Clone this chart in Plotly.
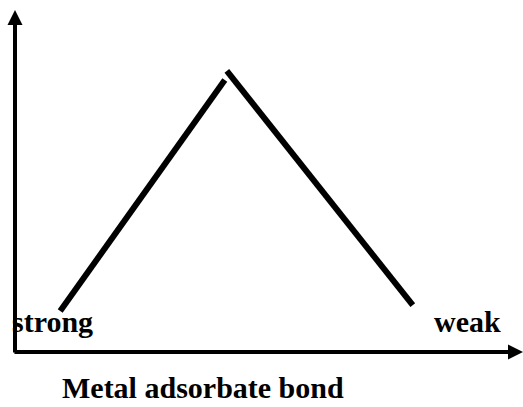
import plotly.graph_objects as go

# Volcano plot data (binding strength vs. activity, arbitrary units)
strong_side_x = [0.89, 4.13]
strong_side_y = [1.20, 7.95]
weak_side_x = [4.17, 7.83]
weak_side_y = [8.22, 1.37]

label_left = "strong"
label_right = "weak"
x_title = "Metal adsorbate bond"

FONT = "Liberation Serif, Times New Roman, serif"

fig = go.Figure()
fig.add_trace(go.Scatter(x=strong_side_x, y=strong_side_y, mode="lines",
                         line=dict(color="black", width=6), hoverinfo="skip",
                         showlegend=False))
fig.add_trace(go.Scatter(x=weak_side_x, y=weak_side_y, mode="lines",
                         line=dict(color="black", width=6), hoverinfo="skip",
                         showlegend=False))

# axes with arrowheads
fig.add_annotation(x=0, y=10, ax=0, ay=-0.06, xref="x", yref="y", axref="x", ayref="y",
                   showarrow=True, arrowhead=2, arrowsize=0.75, arrowwidth=4,
                   arrowcolor="black", text="", standoff=0)
fig.add_annotation(x=10, y=0, ax=-0.04, ay=0, xref="x", yref="y", axref="x", ayref="y",
                   showarrow=True, arrowhead=2, arrowsize=0.75, arrowwidth=4,
                   arrowcolor="black", text="", standoff=0)

fig.add_annotation(x=-0.01, y=0.09, xref="paper", yref="paper", text=f"<b>{label_left}</b>",
                   showarrow=False, xanchor="left", yanchor="middle",
                   font=dict(family=FONT, size=30, color="black"))
fig.add_annotation(x=0.821, y=0.09, xref="paper", yref="paper", text=f"<b>{label_right}</b>",
                   showarrow=False, xanchor="left", yanchor="middle",
                   font=dict(family=FONT, size=30, color="black"))
fig.add_annotation(x=0.37, y=-0.158, xref="paper", yref="paper", text=f"<b>{x_title}</b>",
                   showarrow=False, xanchor="center", yanchor="bottom",
                   font=dict(family=FONT, size=30, color="black"))

fig.update_xaxes(range=[0, 10], visible=False, fixedrange=True)
fig.update_yaxes(range=[0, 10], visible=False, fixedrange=True)
fig.update_layout(width=523, height=407, margin=dict(l=15, r=0, t=10, b=55),
                  plot_bgcolor="white", paper_bgcolor="white")

fig.write_html("out.html", config={"displayModeBar": False},
               post_script="document.body.style.margin='0';document.body.style.overflow='hidden';")
